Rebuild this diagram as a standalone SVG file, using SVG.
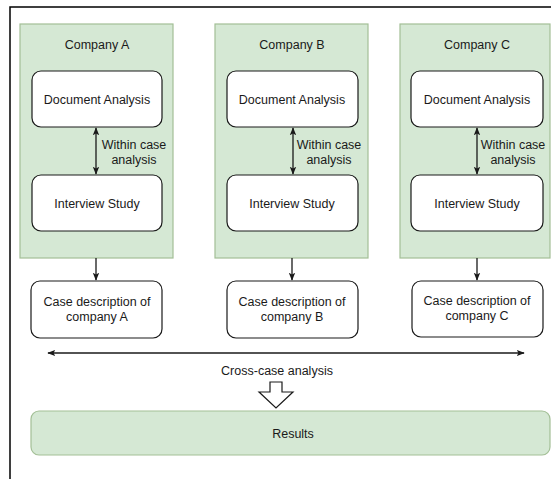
<svg xmlns="http://www.w3.org/2000/svg" width="551" height="479" viewBox="0 0 551 479">
  <style>
    .lane { fill: #d5e8d4; stroke: #a3bf96; stroke-width: 1.2; }
    .box { fill: #ffffff; stroke: #1a1a1a; stroke-width: 1.2; }
    .res { fill: #d5e8d4; stroke: #a3bf96; stroke-width: 1.2; }
    .lbl { font-family: "Liberation Sans", Arial, sans-serif; font-size: 12.5px; fill: #1a1a1a; text-anchor: middle; }
    .edge { stroke: #1a1a1a; stroke-width: 1.3; fill: none; }
    .frame { stroke: #000000; stroke-width: 1.5; fill: none; }
  </style>
  <defs>
    <marker id="tip" viewBox="0 0 10 10" refX="9" refY="5" markerWidth="8" markerHeight="8" orient="auto-start-reverse" markerUnits="userSpaceOnUse">
      <path d="M0,1 L10,5 L0,9 L2,5 Z" fill="#1a1a1a"/>
    </marker>
  </defs>

  <rect width="551" height="479" fill="#ffffff"/>
  <!-- frame edges -->
  <path class="frame" d="M10,479 L10,7 L551,7"/>

  <!-- Company A -->
  <g id="company-a">
    <rect class="lane" x="20" y="24" width="153" height="234"/>
    <text class="lbl" x="97" y="49">Company A</text>
  </g>
  <g id="doc-a">
    <rect class="box" x="32" y="71" width="130" height="56" rx="9"/>
    <text class="lbl" x="97" y="104">Document Analysis</text>
  </g>
  <g id="interview-a">
    <rect class="box" x="32" y="175" width="130" height="56" rx="9"/>
    <text class="lbl" x="97" y="208">Interview Study</text>
  </g>

  <!-- Company B -->
  <g id="company-b">
    <rect class="lane" x="215" y="24" width="153" height="234"/>
    <text class="lbl" x="292" y="49">Company B</text>
  </g>
  <g id="doc-b">
    <rect class="box" x="227" y="71" width="131" height="56" rx="9"/>
    <text class="lbl" x="292" y="104">Document Analysis</text>
  </g>
  <g id="interview-b">
    <rect class="box" x="227" y="175" width="131" height="56" rx="9"/>
    <text class="lbl" x="292" y="208">Interview Study</text>
  </g>

  <!-- Company C -->
  <g id="company-c">
    <rect class="lane" x="400" y="24" width="150" height="234"/>
    <text class="lbl" x="477" y="49">Company C</text>
  </g>
  <g id="doc-c">
    <rect class="box" x="411" y="71" width="132" height="56" rx="9"/>
    <text class="lbl" x="477" y="104">Document Analysis</text>
  </g>
  <g id="interview-c">
    <rect class="box" x="411" y="175" width="132" height="56" rx="9"/>
    <text class="lbl" x="477" y="208">Interview Study</text>
  </g>

  <!-- case descriptions -->
  <g id="case-a">
    <rect class="box" x="31" y="281" width="131" height="57" rx="9"/>
    <text class="lbl" x="97" y="306">Case description of</text>
    <text class="lbl" x="97" y="321">company A</text>
  </g>
  <g id="case-b">
    <rect class="box" x="227" y="281" width="131" height="57" rx="9"/>
    <text class="lbl" x="292" y="306">Case description of</text>
    <text class="lbl" x="292" y="321">company B</text>
  </g>
  <g id="case-c">
    <rect class="box" x="412" y="281" width="131" height="56" rx="9"/>
    <text class="lbl" x="477" y="305">Case description of</text>
    <text class="lbl" x="477" y="320">company C</text>
  </g>

  <!-- results -->
  <g id="results">
    <rect class="res" x="31" y="411" width="519" height="44" rx="8"/>
    <text class="lbl" x="293" y="438">Results</text>
  </g>

  <!-- connectors -->
  <g id="connectors">
    <line class="edge" x1="96" y1="128" x2="96" y2="174" marker-start="url(#tip)" marker-end="url(#tip)"/>
    <line class="edge" x1="293" y1="128" x2="293" y2="174" marker-start="url(#tip)" marker-end="url(#tip)"/>
    <line class="edge" x1="477" y1="128" x2="477" y2="174" marker-start="url(#tip)" marker-end="url(#tip)"/>
    <text class="lbl" x="134" y="149">Within case</text>
    <text class="lbl" x="134" y="164">analysis</text>
    <text class="lbl" x="329" y="149">Within case</text>
    <text class="lbl" x="329" y="164">analysis</text>
    <text class="lbl" x="513" y="149">Within case</text>
    <text class="lbl" x="513" y="164">analysis</text>

    <line class="edge" x1="96" y1="258" x2="96" y2="280" marker-end="url(#tip)"/>
    <line class="edge" x1="292" y1="258" x2="292" y2="280" marker-end="url(#tip)"/>
    <line class="edge" x1="477" y1="258" x2="477" y2="280" marker-end="url(#tip)"/>

    <line class="edge" x1="48" y1="353" x2="524" y2="353" marker-start="url(#tip)" marker-end="url(#tip)"/>
    <text class="lbl" x="277" y="375">Cross-case analysis</text>

    <path d="M270,382 L282,382 L282,392 L293,392 L276,408 L259,392 L270,392 Z" fill="#ffffff" stroke="#1a1a1a" stroke-width="1.2" stroke-linejoin="miter"/>
  </g>
</svg>
